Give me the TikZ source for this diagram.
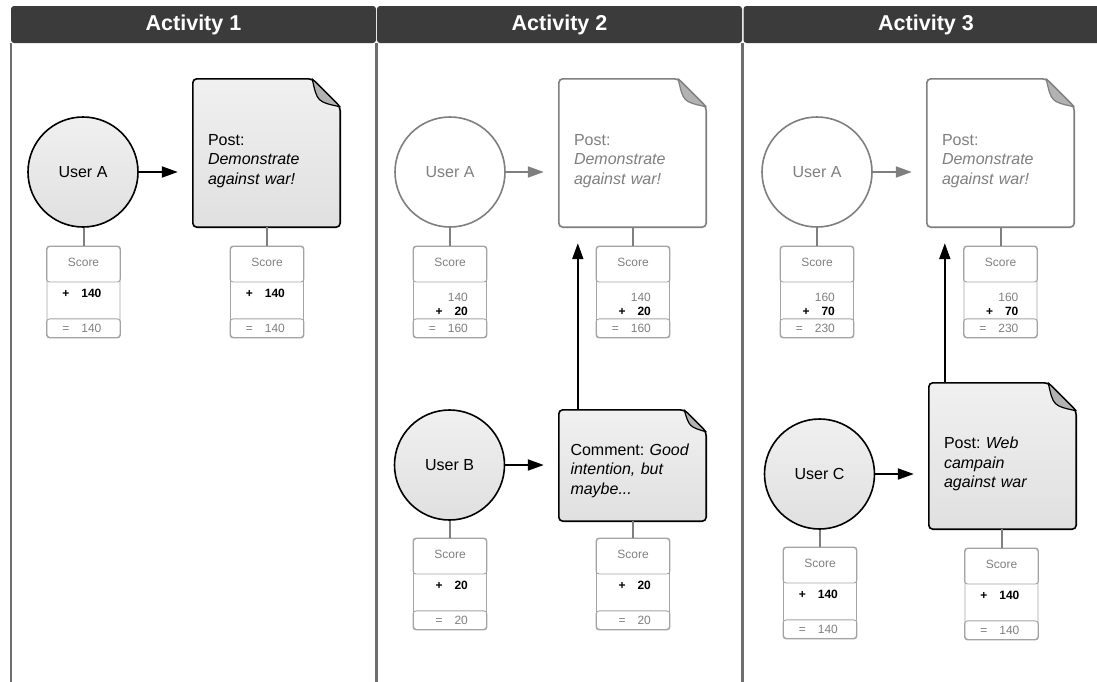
\documentclass[tikz,border=0pt]{standalone}
\usepackage{fontspec}
\setmainfont{Liberation Sans}
\usetikzlibrary{arrows.meta,backgrounds}

\definecolor{headgray}{HTML}{3B3B3B}
\definecolor{linegray}{HTML}{6E6E6E}
\definecolor{fadegray}{HTML}{7F7F7F}
\definecolor{boxgray}{HTML}{A3A3A3}
\definecolor{foldgray}{HTML}{B2B2B2}
\definecolor{filltop}{HTML}{F0F0F0}
\definecolor{fillbot}{HTML}{E0E0E0}

\begin{document}
\begin{tikzpicture}[
		x=1pt, y=-1pt,
		every node/.style={font=\fontsize{16}{19.5}\selectfont},
		header/.style={fill=headgray, text=white, rounded corners=3pt, minimum width=365, minimum height=37, font=\fontsize{21.5}{24}\selectfont\bfseries},
		laneline/.style={draw=linegray, line width=1.5pt},
		user/.style={circle, draw, line width=1.6pt, minimum size=110, inner sep=0, top color=filltop, bottom color=fillbot},
		olduser/.style={circle, draw=fadegray, line width=1.6pt, minimum size=110, inner sep=0, fill=white, text=fadegray},
		note/.style={minimum width=147, inner sep=0},
		notetext/.style={text width=117, inner sep=0, align=left},
		oldtext/.style={notetext, text=fadegray},
		actbody/.style={draw, line width=1.6pt, rounded corners=4pt, top color=filltop, bottom color=fillbot},
		oldbody/.style={draw=fadegray, line width=1.6pt, rounded corners=4pt, fill=white},
		actfold/.style={draw, line width=1.2pt, line join=round, fill=foldgray},
		oldfold/.style={draw=fadegray, line width=1.2pt, line join=round, fill=foldgray},
		link/.style={-{Triangle[length=16pt,width=11pt]}, line width=2pt, shorten >=15pt},
		oldlink/.style={link, draw=fadegray},
		tie/.style={draw=fadegray, line width=2pt},
		score/.style={draw=boxgray, line width=0.9pt, rounded corners=3pt, minimum width=73, minimum height=91, inner sep=0, anchor=north},
		scoreline/.style={draw=boxgray, line width=0.9pt, rounded corners=3pt},
		scoretxt/.style={text=fadegray, inner sep=0, font=\fontsize{12}{14}\selectfont},
		scorebold/.style={inner sep=0, font=\fontsize{12}{14}\selectfont\bfseries}]
	
	\useasboundingbox (0,0) rectangle (1097,681);
	
	% lanes
	\node[header] (h1) at (193.5,24.5) {Activity 1};
	\node[header] (h2) at (559.5,24.5) {Activity 2};
	\node[header] (h3) at (926,24.5) {Activity 3};
	\coordinate (bottom) at (0,690);
	\foreach \h in {h1,h2,h3}
		\draw[laneline] (\h.south west) -- (\h.south west |- bottom)
			(\h.south east) -- (\h.south east |- bottom);
	
	% activity 1
	\node[user] (uA1) at (83,172) {User A};
	\node[note, minimum height=148] (pA1) at (266.5,153) {};
	\node[notetext] (pA1-t) at ([yshift=-8]pA1.center) {Post:\\\emph{Demonstrate}\\\emph{against war!}};
	
	% activity 2
	\node[olduser] (uA2) at (450,172) {User A};
	\node[note, minimum height=148] (pA2) at (632.5,153) {};
	\node[oldtext] (pA2-t) at ([yshift=-8]pA2.center) {Post:\\\emph{Demonstrate}\\\emph{against war!}};
	\node[user] (uB2) at (449.5,465) {User B};
	\node[note, minimum height=111] (cB2) at (632.5,465.5) {};
	\node[notetext, text width=124] (cB2-t) at ([yshift=-5]cB2.center) {Comment:\ \emph{Good}\\\emph{intention, but}\\\emph{maybe...}};
	
	% activity 3
	\node[olduser] (uA3) at (817,172) {User A};
	\node[note, minimum height=148] (pA3) at (1000.5,153) {};
	\node[oldtext] (pA3-t) at ([yshift=-8]pA3.center) {Post:\\\emph{Demonstrate}\\\emph{against war!}};
	\node[user] (uC3) at (819.5,474) {User C};
	\node[note, minimum height=146] (pC3) at (1002.5,456) {};
	\node[notetext] (pC3-t) at ([yshift=-8]pC3.center) {Post:\ \emph{Web}\\\emph{campain}\\\emph{against war}};
	
	% note outlines
	\begin{scope}[on background layer]
		\foreach \n/\f in {pA1/28, cB2/22, pC3/28}{
			\path[actbody] (\n.south west) -- (\n.north west) -- ([xshift=-\f]\n.north east)
				-- ([yshift=-\f]\n.north east) -- (\n.south east) -- cycle;
			\path[actfold] ([xshift=-\f]\n.north east) .. controls ([xshift=-\f+5,yshift=-\f+5]\n.north east)
				.. ([yshift=-\f]\n.north east) -- cycle;
		}
		\foreach \n/\f in {pA2/28, pA3/28}{
			\path[oldbody] (\n.south west) -- (\n.north west) -- ([xshift=-\f]\n.north east)
				-- ([yshift=-\f]\n.north east) -- (\n.south east) -- cycle;
			\path[oldfold] ([xshift=-\f]\n.north east) .. controls ([xshift=-\f+5,yshift=-\f+5]\n.north east)
				.. ([yshift=-\f]\n.north east) -- cycle;
		}
	\end{scope}
	
	% score boxes
	\foreach \n/\x/\y/\p/\a/\t/\ya in {
			suA1/83.5/246/{}/140/140/47, spA1/267/246/{}/140/140/47,
			suA2/450/246/140/20/160/65, spA2/633/246/140/20/160/65,
			suB2/450/538/{}/20/20/47, scB2/633/538/{}/20/20/47,
			suA3/817/246/160/70/230/65, spA3/1000.5/246/160/70/230/65,
			suC3/820/547/{}/140/140/47, spC3/1001.5/548/{}/140/140/47}{
		\node[score] (\n) at (\x,\y) {};
		\draw[scoreline] (\n.north west) rectangle ([yshift=-36]\n.north east);
		\draw[scoreline] ([yshift=19]\n.south west) rectangle (\n.south east);
		\node[scoretxt] (\n-h) at ([yshift=-16]\n.north) {Score};
		\node[scoretxt, anchor=east] (\n-p) at ([xshift=55,yshift=-51]\n.north west) {\p};
		\node[scorebold, anchor=east] (\n-a) at ([xshift=55,yshift=-\ya]\n.north west) {+\quad\a};
		\node[scoretxt, anchor=east] (\n-s) at ([xshift=55,yshift=-82]\n.north west) {=\quad\t};
	}
	
	% connectors
	\draw[link] (uA1.east) -- (uA1.east -| pA1.west);
	\draw[oldlink] (uA2.east) -- (uA2.east -| pA2.west);
	\draw[oldlink] (uA3.east) -- (uA3.east -| pA3.west);
	\draw[link] (uB2.east) -- (uB2.east -| cB2.west);
	\draw[link] (uC3.east) -- (uC3.east -| pC3.west);
	\draw[link, shorten >=16pt] ([xshift=19]cB2.north west) -- ([xshift=19]cB2.north west |- pA2.south);
	\draw[link, shorten >=16pt] ([xshift=16]pC3.north west) -- ([xshift=16]pC3.north west |- pA3.south);
	
	\foreach \u/\s in {uA1/suA1, pA1/spA1, uA2/suA2, pA2/spA2, uB2/suB2, cB2/scB2,
			uA3/suA3, pA3/spA3, uC3/suC3, pC3/spC3}
		\draw[tie] (\s.north |- \u.south) -- (\s.north);
	
\end{tikzpicture}
\end{document}
